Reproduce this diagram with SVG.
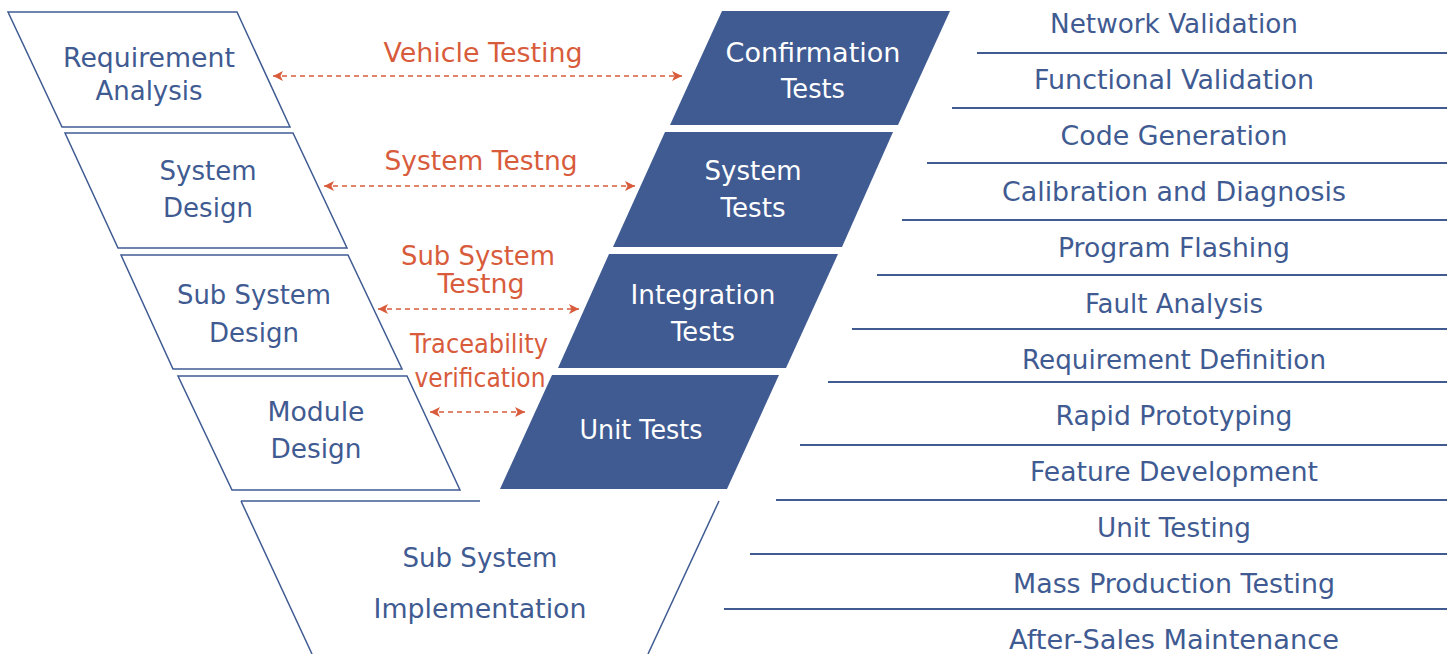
<svg xmlns="http://www.w3.org/2000/svg" width="1456" height="654" viewBox="0 0 1456 654">
<defs>
<style>
text{font-family:"DejaVu Sans","Liberation Sans",sans-serif;font-size:26px;text-anchor:middle}
.out{fill:#ffffff;stroke:#3f5b92;stroke-width:1.5}
.fill{fill:#3f5b92;stroke:none}
.bt{fill:#3f5b92}
.wt{fill:#ffffff}
.ot{fill:#d85c3c}
.dash{stroke:#d85c3c;stroke-width:1.5;stroke-dasharray:5 4;fill:none}
.rule{stroke:#3f5b92;stroke-width:2}
</style>
<marker id="ah" viewBox="0 0 10 10" markerUnits="userSpaceOnUse" markerWidth="10" markerHeight="10" refX="10" refY="5" orient="auto-start-reverse">
<path d="M0,0 L10,5 L0,10 L2.5,5 z" fill="#d85c3c"/>
</marker>
</defs>
<rect width="1456" height="654" fill="#ffffff"/>

<g id="requirement-analysis">
<polygon class="out" points="8,12 237,12 290,127 62,127"/>
<text class="bt" x="149" y="67" textLength="172" lengthAdjust="spacingAndGlyphs">Requirement</text>
<text class="bt" x="149" y="100" textLength="107" lengthAdjust="spacingAndGlyphs">Analysis</text>
</g>
<g id="system-design">
<polygon class="out" points="65,133 293,133 347,248 118,248"/>
<text class="bt" x="208" y="180" textLength="97" lengthAdjust="spacingAndGlyphs">System</text>
<text class="bt" x="208" y="217" textLength="90" lengthAdjust="spacingAndGlyphs">Design</text>
</g>
<g id="sub-system-design">
<polygon class="out" points="121,255 348,255 402,369 173,369"/>
<text class="bt" x="254" y="304" textLength="154" lengthAdjust="spacingAndGlyphs">Sub System</text>
<text class="bt" x="254" y="342" textLength="90" lengthAdjust="spacingAndGlyphs">Design</text>
</g>
<g id="module-design">
<polygon class="out" points="178,376 407,376 460,490 232,490"/>
<text class="bt" x="316" y="421" textLength="97" lengthAdjust="spacingAndGlyphs">Module</text>
<text class="bt" x="316" y="458" textLength="91" lengthAdjust="spacingAndGlyphs">Design</text>
</g>
<g id="sub-system-implementation">
<line class="rule" style="stroke-width:1.5" x1="241" y1="501" x2="480" y2="501"/>
<line class="rule" style="stroke-width:1.5" x1="241" y1="501" x2="312" y2="654"/>
<line class="rule" style="stroke-width:1.5" x1="719" y1="501" x2="648" y2="654"/>
<text class="bt" x="480" y="567" textLength="155" lengthAdjust="spacingAndGlyphs">Sub System</text>
<text class="bt" x="480" y="618" textLength="213" lengthAdjust="spacingAndGlyphs">Implementation</text>
</g>

<g id="confirmation-tests">
<polygon class="fill" points="722,11 950,11 898,125 670,125"/>
<text class="wt" x="813" y="62" textLength="175" lengthAdjust="spacingAndGlyphs">Confirmation</text>
<text class="wt" x="813" y="98" textLength="64" lengthAdjust="spacingAndGlyphs">Tests</text>
</g>
<g id="system-tests">
<polygon class="fill" points="665,132 893,132 842,247 613,247"/>
<text class="wt" x="753" y="180" textLength="97" lengthAdjust="spacingAndGlyphs">System</text>
<text class="wt" x="753" y="217" textLength="65" lengthAdjust="spacingAndGlyphs">Tests</text>
</g>
<g id="integration-tests">
<polygon class="fill" points="609,254 838,254 786,368 558,368"/>
<text class="wt" x="703" y="304" textLength="145" lengthAdjust="spacingAndGlyphs">Integration</text>
<text class="wt" x="703" y="341" textLength="64" lengthAdjust="spacingAndGlyphs">Tests</text>
</g>
<g id="unit-tests">
<polygon class="fill" points="552,375 779,375 727,489 500,489"/>
<text class="wt" x="641" y="439" textLength="123" lengthAdjust="spacingAndGlyphs">Unit Tests</text>
</g>

<g id="connectors">
<line class="dash" x1="273" y1="76" x2="682" y2="76" marker-start="url(#ah)" marker-end="url(#ah)"/>
<line class="dash" x1="324" y1="186" x2="635" y2="186" marker-start="url(#ah)" marker-end="url(#ah)"/>
<line class="dash" x1="378" y1="309" x2="579" y2="309" marker-start="url(#ah)" marker-end="url(#ah)"/>
<line class="dash" x1="430" y1="412" x2="525" y2="412" marker-start="url(#ah)" marker-end="url(#ah)"/>
</g>

<g id="connector-labels">
<text class="ot" x="483" y="62" textLength="199" lengthAdjust="spacingAndGlyphs">Vehicle Testing</text>
<text class="ot" x="481" y="170" textLength="193" lengthAdjust="spacingAndGlyphs">System Testng</text>
<text class="ot" x="478" y="265" textLength="154" lengthAdjust="spacingAndGlyphs">Sub System</text>
<text class="ot" x="481" y="293" textLength="87" lengthAdjust="spacingAndGlyphs">Testng</text>
<text class="ot" x="479" y="353" textLength="138" lengthAdjust="spacingAndGlyphs">Traceability</text>
<text class="ot" x="480" y="387" textLength="131" lengthAdjust="spacingAndGlyphs">verification</text>
</g>

<g id="activity-list">
<line class="rule" x1="977" y1="53" x2="1447" y2="53"/>
<line class="rule" x1="952" y1="108" x2="1447" y2="108"/>
<line class="rule" x1="927" y1="163" x2="1447" y2="163"/>
<line class="rule" x1="902" y1="220" x2="1447" y2="220"/>
<line class="rule" x1="877" y1="275" x2="1447" y2="275"/>
<line class="rule" x1="852" y1="329" x2="1447" y2="329"/>
<line class="rule" x1="828" y1="382" x2="1447" y2="382"/>
<line class="rule" x1="800" y1="445" x2="1447" y2="445"/>
<line class="rule" x1="776" y1="500" x2="1447" y2="500"/>
<line class="rule" x1="750" y1="554" x2="1447" y2="554"/>
<line class="rule" x1="724" y1="609" x2="1447" y2="609"/>
<text class="bt" x="1174" y="33" textLength="248" lengthAdjust="spacingAndGlyphs">Network Validation</text>
<text class="bt" x="1174" y="89" textLength="280" lengthAdjust="spacingAndGlyphs">Functional Validation</text>
<text class="bt" x="1174" y="145" textLength="227" lengthAdjust="spacingAndGlyphs">Code Generation</text>
<text class="bt" x="1174" y="201" textLength="344" lengthAdjust="spacingAndGlyphs">Calibration and Diagnosis</text>
<text class="bt" x="1174" y="257" textLength="232" lengthAdjust="spacingAndGlyphs">Program Flashing</text>
<text class="bt" x="1174" y="313" textLength="178" lengthAdjust="spacingAndGlyphs">Fault Analysis</text>
<text class="bt" x="1174" y="369" textLength="304" lengthAdjust="spacingAndGlyphs">Requirement Definition</text>
<text class="bt" x="1174" y="425" textLength="237" lengthAdjust="spacingAndGlyphs">Rapid Prototyping</text>
<text class="bt" x="1174" y="481" textLength="288" lengthAdjust="spacingAndGlyphs">Feature Development</text>
<text class="bt" x="1174" y="537" textLength="154" lengthAdjust="spacingAndGlyphs">Unit Testing</text>
<text class="bt" x="1174" y="593" textLength="322" lengthAdjust="spacingAndGlyphs">Mass Production Testing</text>
<text class="bt" x="1174" y="649" textLength="330" lengthAdjust="spacingAndGlyphs">After-Sales Maintenance</text>
</g>
</svg>
